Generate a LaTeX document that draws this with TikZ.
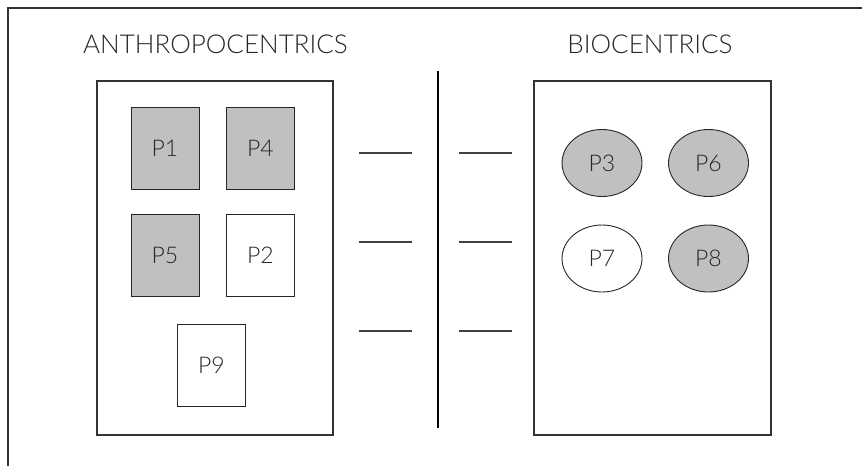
\documentclass[tikz,border=0pt]{standalone}
\usepackage{fontspec}
\setmainfont{Lato}[UprightFont=* Light]
\usetikzlibrary{shapes.geometric}
\definecolor{boxgray}{HTML}{C0C0C0}
\definecolor{linegray}{HTML}{333333}
\begin{document}
\begin{tikzpicture}[x=1pt,y=-1pt,
  frame/.style={draw=linegray,line width=1.1pt},
  sq/.style={draw=black!85,line width=0.9pt,minimum width=68pt,minimum height=82pt,inner sep=0pt,font=\fontsize{23}{23}\selectfont,text=black!85},
  ov/.style={ellipse,draw=black!85,line width=0.9pt,minimum width=80pt,minimum height=67pt,inner sep=0pt,font=\fontsize{23}{23}\selectfont,text=black!85},
  gfill/.style={fill=boxgray},
  dashline/.style={draw=black!75,line width=1.2pt},
  title/.style={font=\fontsize{26}{26}\selectfont,text=black!85}]
\useasboundingbox (0,0) rectangle (862,466);
% outer frame (top and left)
\coordinate (ftl) at (8,8);
\coordinate (ftr) at (862,8);
\coordinate (fbl) at (8,466);
\draw[frame] (ftr) -- (ftl) -- (fbl);
% titles
\node[title] (tA) at (215.5,44) {ANTHROPOCENTRICS};
\node[title] (tB) at (650,44) {BIOCENTRICS};
% group boxes
\node[frame,minimum width=236pt,minimum height=354pt,inner sep=0pt] (L) at (215,258) {};
\node[frame,minimum width=237pt,minimum height=354pt,inner sep=0pt] (R) at (652.5,258) {};
% squares
\node[sq,gfill] (p1) at (165,148) {P1};
\node[sq,gfill] (p4) at (260.5,148) {P4};
\node[sq,gfill] (p5) at (165,255) {P5};
\node[sq] (p2) at (260.5,255) {P2};
\node[sq] (p9) at (211.5,365.5) {P9};
% ellipses
\node[ov,gfill] (p3) at (602,163) {P3};
\node[ov,gfill] (p6) at (708.5,163) {P6};
\node[ov] (p7) at (602,258.5) {P7};
\node[ov,gfill] (p8) at (708.5,258.5) {P8};
% divider
\coordinate (dt) at (438,71);
\coordinate (db) at (438,428);
\draw[line width=1.1pt,black] (dt) -- (db);
% blank lines
\foreach \y [count=\i] in {153,242,331}{
  \coordinate (la\i) at (359,\y); \coordinate (lb\i) at (412,\y);
  \coordinate (ra\i) at (459,\y); \coordinate (rb\i) at (512,\y);
  \draw[dashline] (la\i) -- (lb\i);
  \draw[dashline] (ra\i) -- (rb\i);
}
\end{tikzpicture}
\end{document}
